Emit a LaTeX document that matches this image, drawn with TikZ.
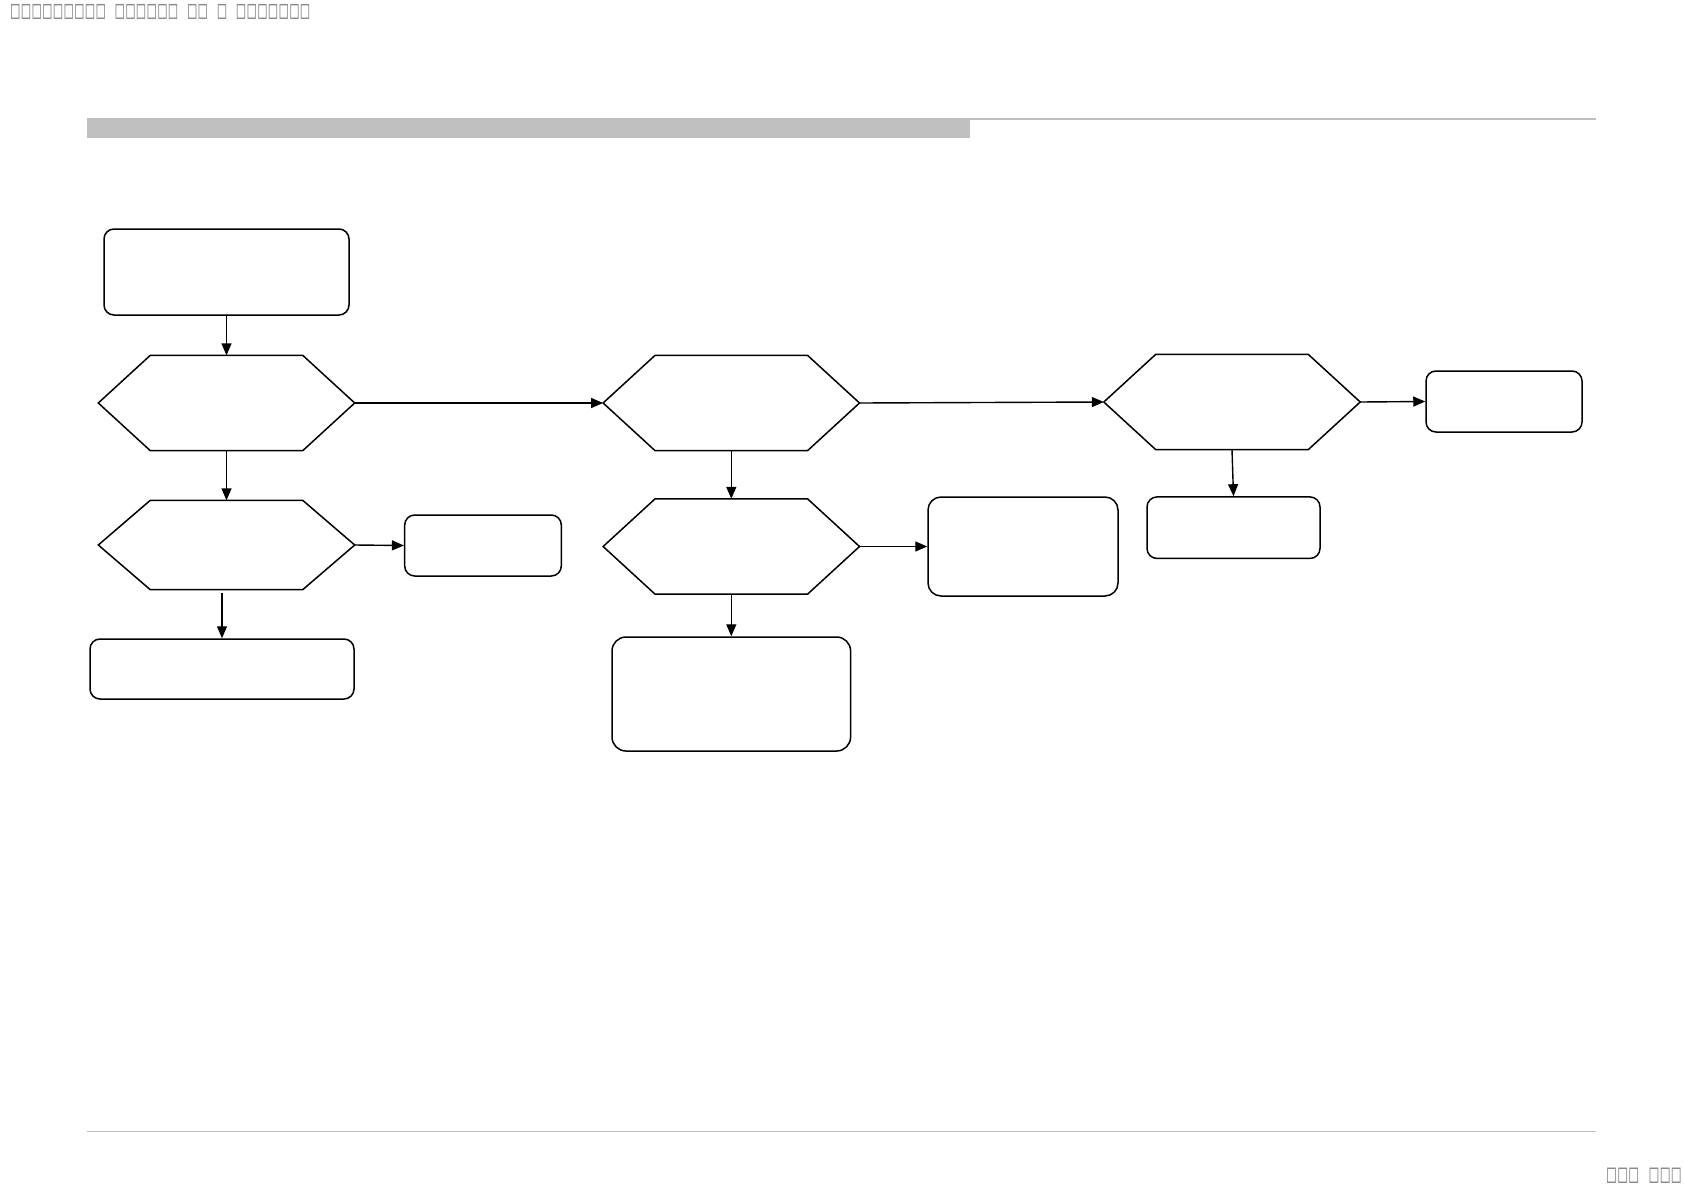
\documentclass[tikz,border=0pt]{standalone}
\usepackage{fontspec}
\newfontfamily\tofufont[LetterSpace=16]{DejaVu Sans Mono}
\usetikzlibrary{arrows.meta,positioning,calc}
\definecolor{bargray}{HTML}{C0C0C0}
\definecolor{rulegray}{HTML}{BDBDBD}
\definecolor{tofugray}{HTML}{8A8A8A}
\tikzset{
  shapeline/.style={draw=black, line width=1.5pt, line join=miter},
  roundbox/.style={shapeline, rounded corners=10pt, inner sep=0pt, fill=white},
  hexcore/.style={draw=none, inner sep=0pt, minimum width=256pt},
  flow/.style={draw=black, line width=1.4pt, -{Triangle[length=12pt,width=10pt]}},
  tofu/.style={text=tofugray, font=\tofufont\fontsize{14}{15}\selectfont, inner sep=0pt}
}
\newcommand\hexnode[4]{% name, x, y, height
  \node[hexcore, minimum height=#4pt] (#1) at (#2,#3) {};
  \draw[shapeline] (#1.west) -- ([xshift=52pt]#1.north west) -- ([xshift=-52pt]#1.north east)
     -- (#1.east) -- ([xshift=-52pt]#1.south east) -- ([xshift=52pt]#1.south west) -- cycle;}
\begin{document}
\begin{tikzpicture}[x=1pt,y=-1pt]
\useasboundingbox (0,0) rectangle (1684,1191);
% header / footer
\fill[bargray] (87,118) rectangle (970,137.5);
\fill[bargray] (970,118) rectangle (1596,120);
\fill[rulegray] (87,1130.7) rectangle (1596,1131.8);
\node[tofu, anchor=west] (hdr) at (11,12) {\scalebox{1}[1.8]{□□□□□□□□□ □□□□□□ □□ □ □□□□□□□}};
\node[tofu, anchor=east] (pg) at (1681,1176) {\scalebox{1.05}[1.85]{□□□ □□□}};
% boxes
\node[roundbox, minimum width=245pt, minimum height=86pt] (start) at (226.5,272) {};
\hexnode{h1}{226.5}{403}{95}
\hexnode{h2}{731.3}{403}{95}
\hexnode{h3}{1232}{402}{95}
\node[roundbox, minimum width=156pt, minimum height=61pt] (r1) at (1504,401.5) {};
\hexnode{h4}{226.5}{545}{89}
\node[roundbox, minimum width=156.6pt, minimum height=61pt] (r2) at (483,545.5) {};
\node[roundbox, minimum width=264pt, minimum height=60pt] (r3) at (222,669) {};
\hexnode{h5}{731.3}{546.5}{95}
\node[roundbox, rounded corners=13pt, minimum width=190pt, minimum height=99pt] (r4) at (1023,546.5) {};
\node[roundbox, rounded corners=14pt, minimum width=238.6pt, minimum height=114pt] (r5) at (731.3,694) {};
\node[roundbox, minimum width=173pt, minimum height=61.5pt] (r6) at (1233.5,527.7) {};
% connectors
\draw[flow] (start) -- (h1);
\draw[flow] (h1.east) -- (h2.west);
\draw[flow] (h2.east) -- (h3.west);
\draw[flow] (h3.east) -- (r1.west);
\draw[flow] (h1) -- (h4);
\draw[flow] (h4.east) -- (r2.west);
\coordinate (h4b) at ([yshift=-3pt]r3.north |- h4.south);
\draw[flow] (h4b) -- (r3.north);
\draw[flow] (h2) -- (h5);
\draw[flow] (h5.east) -- (r4.west);
\draw[flow] (h5) -- (r5);
\draw[flow] (h3.south) -- (r6.north);
\end{tikzpicture}
\end{document}
